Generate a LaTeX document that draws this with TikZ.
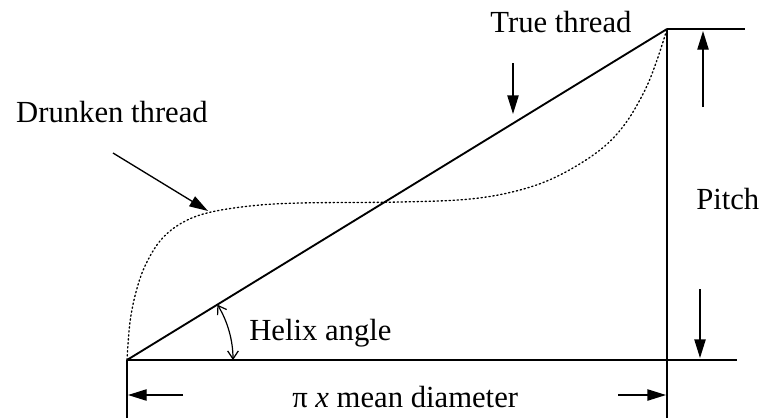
\documentclass[tikz,border=0pt]{standalone}
\usepackage{fontspec}
\setmainfont{Liberation Serif}
\usetikzlibrary{arrows.meta}
\begin{document}
\begin{tikzpicture}[x=0.75pt,y=-0.75pt,
  main/.style={line width=1.2pt},
  dimarrow/.style={line width=1pt,-{Triangle[length=14pt,width=8.5pt]}},
  lbl/.style={font=\fontsize{23}{27}\selectfont, inner sep=0pt},
  drunk/.style={line width=1pt, dotted, line cap=round}]
\useasboundingbox (0,0) rectangle (762,418);
% key points
\coordinate (O) at (127,360);
\coordinate (T) at (667,29);
\coordinate (Bend) at (737,360);
\coordinate (Tend) at (745,29);
\coordinate (Obot) at (127,418);
\coordinate (Rbot) at (667,418);
% structure lines
\draw[main] (O) -- (Bend);
\draw[main] (T) -- (Tend);
\draw[main] (T) -- (Rbot);
\draw[main] (O) -- (Obot);
\draw[line width=1.4pt] (O) -- (T);
% drunken thread curve
\draw[drunk] plot[smooth, tension=0.6] coordinates {(127,360) (130,322) (136,292) (145,266) (160,241) (180,224) (207,213) (250,206) (300,203) (400,202) (470,199) (520,190) (560,175) (600,150) (625,124) (645,90) (657,60) (667,29)};
% labels
\node[lbl] (tt) at (561,22) {True thread};
\node[lbl] (dt) at (112,112) {Drunken thread};
\node[lbl, anchor=west] (pitch) at (696,199) {Pitch};
\node[lbl, anchor=west] (helix) at (249,333) {Helix angle};
\node[lbl, anchor=west] (dia) at (292,397) {π \textit{x} mean diameter};
% arrows
\coordinate (ttA) at (513,63);
\coordinate (ttB) at (513,114);
\draw[dimarrow] (ttA) -- (ttB);
\coordinate (dtA) at (113,153);
\coordinate (dtB) at (208,211);
\draw[dimarrow] (dtA) -- (dtB);
\coordinate (puA) at (703,107);
\coordinate (puB) at (703,31);
\draw[dimarrow] (puA) -- (puB);
\coordinate (pdA) at (700,289);
\coordinate (pdB) at (700,358);
\draw[dimarrow] (pdA) -- (pdB);
\coordinate (dlA) at (183,395);
\coordinate (dlB) at (128,395);
\draw[dimarrow] (dlA) -- (dlB);
\coordinate (drA) at (618,395);
\coordinate (drB) at (666,395);
\draw[dimarrow] (drA) -- (drB);
% helix angle arc
\coordinate (hA) at (233,360);
\draw[line width=0.9pt, {Straight Barb[length=6pt,width=8pt]}-{Straight Barb[length=6pt,width=8pt]}] (hA) arc[start angle=0, end angle=31.5, radius=79.5pt];
\end{tikzpicture}
\end{document}
